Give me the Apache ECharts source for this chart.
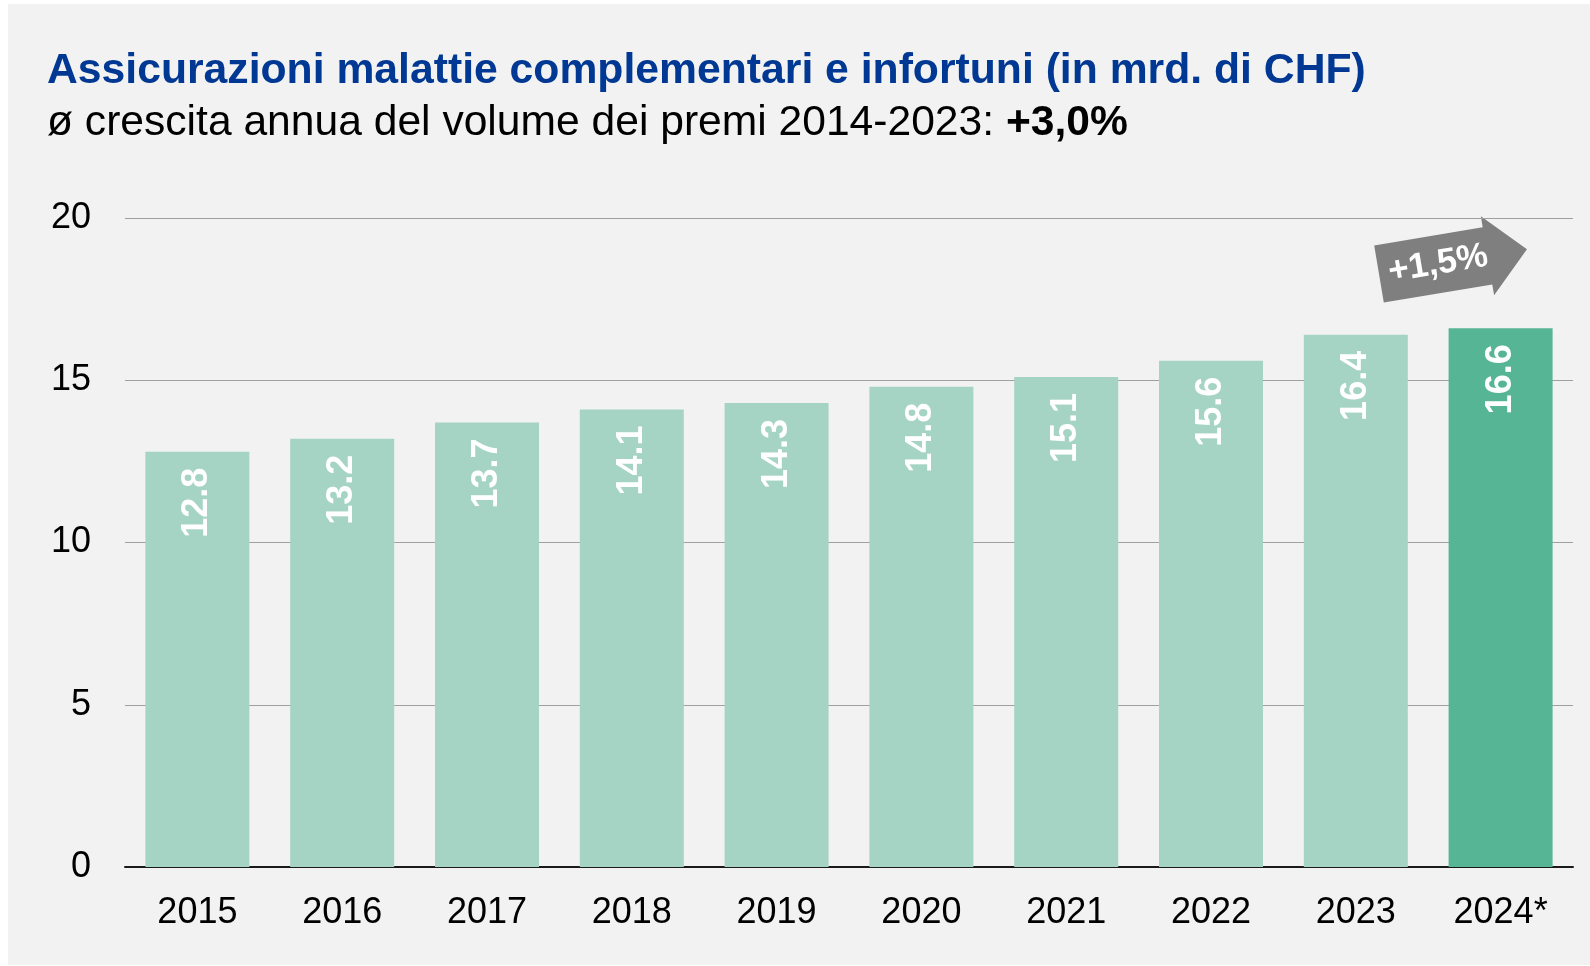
<!DOCTYPE html>
<html>
<head>
<meta charset="utf-8">
<script src="https://cdn.jsdelivr.net/npm/echarts@6/dist/echarts.min.js"></script>
<style>
  html, body { margin: 0; padding: 0; background: #fff; }
  #chart { width: 1590px; height: 966px; }
</style>
</head>
<body>
<div id="chart"></div>
<script>
// years, premium volume in bn CHF
var years = ['2015', '2016', '2017', '2018', '2019', '2020', '2021', '2022', '2023', '2024*']
var premiums = [12.8, 13.2, 13.7, 14.1, 14.3, 14.8, 15.1, 15.6, 16.4, 16.6]
var yTicks = [0, 5, 10, 15, 20]
var growthLabel = '+1,5%'

var font = '"Liberation Sans", Arial, sans-serif'
var lightGreen = '#a5d4c4'
var darkGreen = '#55b595'

var chart = echarts.init(document.getElementById('chart'))

chart.setOption({
  backgroundColor: '#ffffff',
  animation: false,
  title: {
    text: 'Assicurazioni malattie complementari e infortuni (in mrd. di CHF)',
    subtext: 'ø crescita annua del volume dei premi 2014-2023: {b|+3,0%}',
    left: 42,
    top: 45,
    itemGap: 9,
    textStyle: {
      color: '#003893',
      fontFamily: font,
      fontWeight: 'bold',
      fontSize: 42.7
    },
    subtextStyle: {
      color: '#000',
      fontFamily: font,
      fontSize: 42.6,
      rich: {
        b: { fontFamily: font, fontSize: 42.6, fontWeight: 'bold', color: '#000' }
      }
    }
  },
  grid: {
    left: 125,
    right: 17,
    top: 218,
    bottom: 99
  },
  xAxis: {
    type: 'category',
    data: years,
    axisLine: { lineStyle: { color: '#1a1a1a', width: 2 } },
    axisTick: { show: false },
    axisLabel: {
      color: '#000',
      fontFamily: font,
      fontSize: 36,
      margin: 28
    }
  },
  yAxis: {
    type: 'value',
    min: yTicks[0],
    max: yTicks[yTicks.length - 1],
    interval: 5,
    axisLine: { show: false },
    axisTick: { show: false },
    splitLine: { lineStyle: { color: '#a0a0a0', width: 1 } },
    axisLabel: {
      color: '#000',
      fontFamily: font,
      fontSize: 36,
      margin: 34
    }
  },
  series: [
    {
      type: 'bar',
      barWidth: 104,
      data: premiums.map(function(v, i) {
        return {
          value: v,
          itemStyle: { color: i === premiums.length - 1 ? darkGreen : lightGreen }
        }
      }),
      label: {
        show: true,
        position: 'insideTop',
        distance: 16,
        rotate: 90,
        align: 'right',
        verticalAlign: 'middle',
        color: '#fff',
        fontFamily: font,
        fontWeight: 'bold',
        fontSize: 36,
        formatter: function(p) {
          return p.value.toFixed(1)
        }
      }
    }
  ],
  graphic: [
    {
      type: 'rect',
      left: 8,
      top: 4,
      z: -100,
      silent: true,
      shape: { width: 1582, height: 961 },
      style: { fill: '#f2f2f2' }
    },
    {
      type: 'group',
      x: 1379,
      y: 274,
      rotation: 0.166,
      children: [
        {
          type: 'polygon',
          shape: {
            points: [[0, -29], [110, -29], [110, -40], [150, 0], [110, 40], [110, 29], [0, 29]]
          },
          style: { fill: '#7f7f7f' }
        },
        {
          type: 'text',
          x: 60,
          y: 0,
          style: {
            text: growthLabel,
            fill: '#fff',
            fontFamily: font,
            fontWeight: 'bold',
            fontSize: 35,
            align: 'center',
            verticalAlign: 'middle'
          }
        }
      ]
    }
  ]
})
</script>
</body>
</html>
